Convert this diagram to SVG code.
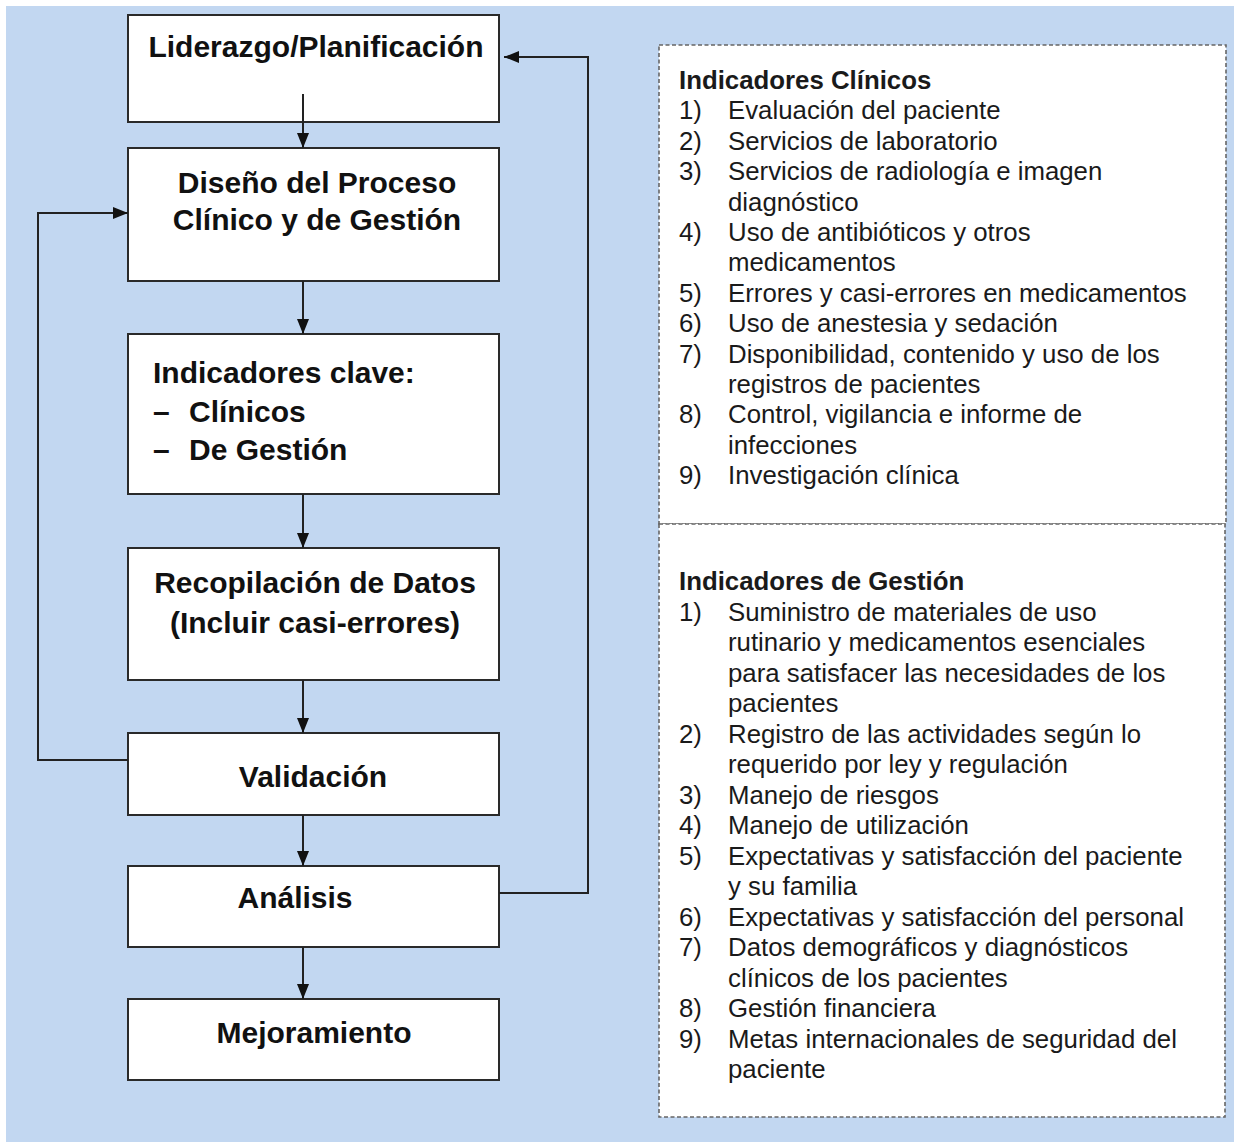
<svg xmlns="http://www.w3.org/2000/svg" width="1234" height="1142" viewBox="0 0 1234 1142">
<style>
.box{fill:#fff;stroke:#2a2a2a;stroke-width:2}
.dash{fill:#fff;stroke:#666;stroke-width:1.6;stroke-dasharray:4 2.5}
.h{font-family:"Liberation Sans",Arial,sans-serif;font-weight:bold;font-size:30px;fill:#111}
.hm{text-anchor:middle}
.t{font-family:"Liberation Sans",Arial,sans-serif;font-size:25.8px;fill:#1a1a1a}
.tb{font-weight:bold}
.c{fill:none;stroke:#222;stroke-width:2}
</style>
<defs>
<marker id="ah" viewBox="0 0 15 12" refX="15" refY="6" markerWidth="15" markerHeight="12" orient="auto" markerUnits="userSpaceOnUse">
<path d="M0,0 L15,6 L0,12 z" fill="#111"/>
</marker>
</defs>
<rect x="6" y="6" width="1228" height="1136" fill="#C2D7F1"/>

<g id="n-liderazgo">
<rect class="box" x="128" y="15" width="371" height="107"/>
<text class="h hm" x="316" y="57">Liderazgo/Planificación</text>
</g>
<g id="n-diseno">
<rect class="box" x="128" y="148" width="371" height="133"/>
<text class="h hm" x="317" y="193">Diseño del Proceso</text>
<text class="h hm" x="317" y="230">Clínico y de Gestión</text>
</g>
<g id="n-indicadores">
<rect class="box" x="128" y="334" width="371" height="160"/>
<text class="h" x="153" y="383">Indicadores clave:</text>
<text class="h" y="422"><tspan x="153">–</tspan><tspan x="189">Clínicos</tspan></text>
<text class="h" y="460"><tspan x="153">–</tspan><tspan x="189">De Gestión</tspan></text>
</g>
<g id="n-recopilacion">
<rect class="box" x="128" y="548" width="371" height="132"/>
<text class="h hm" x="315" y="593">Recopilación de Datos</text>
<text class="h hm" x="315" y="633">(Incluir casi-errores)</text>
</g>
<g id="n-validacion">
<rect class="box" x="128" y="733" width="371" height="82"/>
<text class="h hm" x="313" y="787">Validación</text>
</g>
<g id="n-analisis">
<rect class="box" x="128" y="866" width="371" height="81"/>
<text class="h hm" x="295" y="908">Análisis</text>
</g>
<g id="n-mejoramiento">
<rect class="box" x="128" y="999" width="371" height="81"/>
<text class="h hm" x="314" y="1043">Mejoramiento</text>
</g>

<g id="connectors">
<line class="c" x1="303" y1="94" x2="303" y2="148" marker-end="url(#ah)"/>
<line class="c" x1="303" y1="281" x2="303" y2="334" marker-end="url(#ah)"/>
<line class="c" x1="303" y1="494" x2="303" y2="548" marker-end="url(#ah)"/>
<line class="c" x1="303" y1="680" x2="303" y2="733" marker-end="url(#ah)"/>
<line class="c" x1="303" y1="815" x2="303" y2="866" marker-end="url(#ah)"/>
<line class="c" x1="303" y1="947" x2="303" y2="999" marker-end="url(#ah)"/>
<path class="c" d="M128,760 H38 V213 H128" marker-end="url(#ah)"/>
<path class="c" d="M499,893 H588 V57 H504" marker-end="url(#ah)"/>
</g>

<g id="n-clinicos">
<rect class="dash" x="659" y="45" width="567" height="479"/>
<text class="t tb" x="679" y="89">Indicadores Clínicos</text>
<text class="t" x="679" y="119.4">1)</text><text class="t" x="728" y="119.4">Evaluación del paciente</text>
<text class="t" x="679" y="149.8">2)</text><text class="t" x="728" y="149.8">Servicios de laboratorio</text>
<text class="t" x="679" y="180.2">3)</text><text class="t" x="728" y="180.2">Servicios de radiología e imagen</text>
<text class="t" x="728" y="210.6">diagnóstico</text>
<text class="t" x="679" y="241">4)</text><text class="t" x="728" y="241">Uso de antibióticos y otros</text>
<text class="t" x="728" y="271.4">medicamentos</text>
<text class="t" x="679" y="301.8">5)</text><text class="t" x="728" y="301.8">Errores y casi-errores en medicamentos</text>
<text class="t" x="679" y="332.2">6)</text><text class="t" x="728" y="332.2">Uso de anestesia y sedación</text>
<text class="t" x="679" y="362.6">7)</text><text class="t" x="728" y="362.6">Disponibilidad, contenido y uso de los</text>
<text class="t" x="728" y="393">registros de pacientes</text>
<text class="t" x="679" y="423.4">8)</text><text class="t" x="728" y="423.4">Control, vigilancia e informe de</text>
<text class="t" x="728" y="453.8">infecciones</text>
<text class="t" x="679" y="484.2">9)</text><text class="t" x="728" y="484.2">Investigación clínica</text>
</g>

<g id="n-gestion">
<rect class="dash" x="659" y="524" width="566" height="593"/>
<text class="t tb" x="679" y="590">Indicadores de Gestión</text>
<text class="t" x="679" y="620.5">1)</text><text class="t" x="728" y="620.5">Suministro de materiales de uso</text>
<text class="t" x="728" y="651">rutinario y medicamentos esenciales</text>
<text class="t" x="728" y="681.5">para satisfacer las necesidades de los</text>
<text class="t" x="728" y="712">pacientes</text>
<text class="t" x="679" y="742.5">2)</text><text class="t" x="728" y="742.5">Registro de las actividades según lo</text>
<text class="t" x="728" y="773">requerido por ley y regulación</text>
<text class="t" x="679" y="803.5">3)</text><text class="t" x="728" y="803.5">Manejo de riesgos</text>
<text class="t" x="679" y="834">4)</text><text class="t" x="728" y="834">Manejo de utilización</text>
<text class="t" x="679" y="864.5">5)</text><text class="t" x="728" y="864.5">Expectativas y satisfacción del paciente</text>
<text class="t" x="728" y="895">y su familia</text>
<text class="t" x="679" y="925.5">6)</text><text class="t" x="728" y="925.5">Expectativas y satisfacción del personal</text>
<text class="t" x="679" y="956">7)</text><text class="t" x="728" y="956">Datos demográficos y diagnósticos</text>
<text class="t" x="728" y="986.5">clínicos de los pacientes</text>
<text class="t" x="679" y="1017">8)</text><text class="t" x="728" y="1017">Gestión financiera</text>
<text class="t" x="679" y="1047.5">9)</text><text class="t" x="728" y="1047.5">Metas internacionales de seguridad del</text>
<text class="t" x="728" y="1078">paciente</text>
</g>
</svg>
